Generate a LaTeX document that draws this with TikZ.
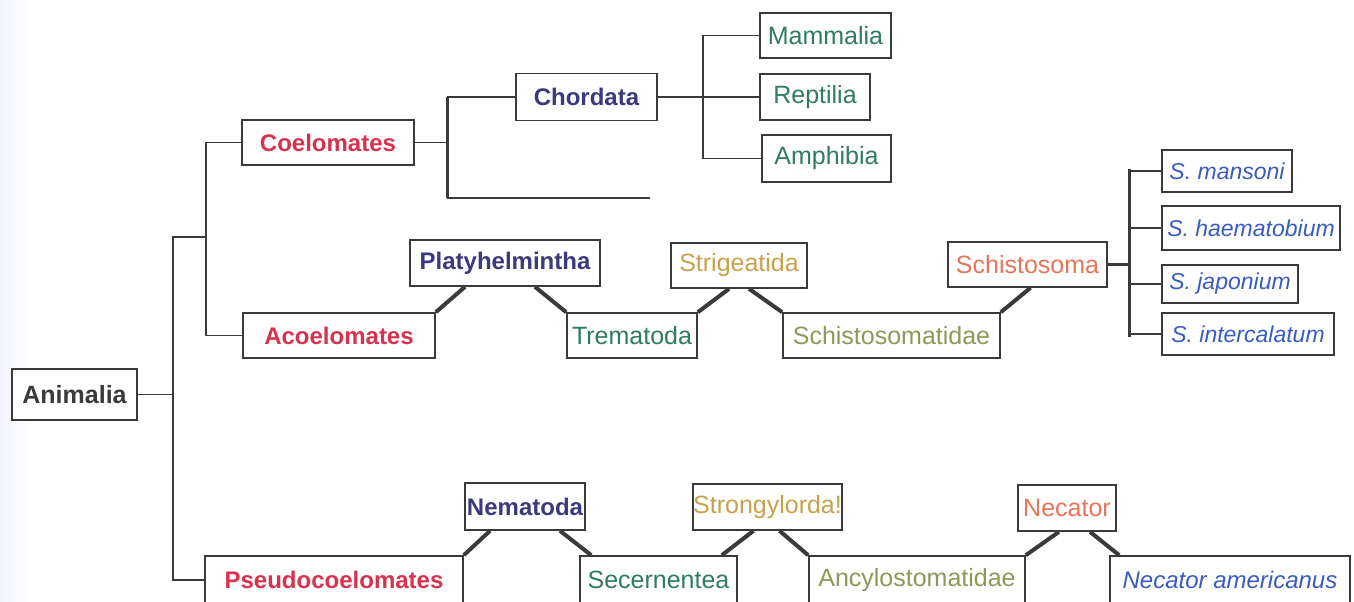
\documentclass[tikz,border=0pt]{standalone}
\usepackage{fontspec}
\usepackage{xcolor}
\usepackage{tikz}
\setmainfont{Liberation Sans}
\definecolor{boxgray}{HTML}{3A3A3A}
\definecolor{gradered}{HTML}{D8324F}
\definecolor{phylumblue}{HTML}{3B3A7A}
\definecolor{classgreen}{HTML}{2F7C62}
\definecolor{orderyellow}{HTML}{C8A24A}
\definecolor{familyolive}{HTML}{8C9A58}
\definecolor{genussalmon}{HTML}{E8745A}
\definecolor{speciesblue}{HTML}{3A5CC0}
\tikzset{
  taxon/.style={draw=boxgray, line width=0.8pt, fill=white, inner sep=0pt,
    font=\fontsize{12.5}{14}\selectfont},
  gradebox/.style={taxon, text=gradered, font=\fontsize{12}{14}\selectfont\bfseries},
  phylumbox/.style={taxon, text=phylumblue, font=\fontsize{12}{14}\selectfont\bfseries},
  classbox/.style={taxon, text=classgreen},
  orderbox/.style={taxon, text=orderyellow},
  familybox/.style={taxon, text=familyolive},
  genusbox/.style={taxon, text=genussalmon},
  speciesbox/.style={taxon, text=speciesblue, font=\fontsize{11.5}{14}\selectfont\itshape},
  link/.style={draw=boxgray, line width=0.75pt},
  fork/.style={draw=boxgray, line width=1.5pt},
  stem/.style={draw=boxgray, line width=2pt},
}

\begin{document}
\begin{tikzpicture}[x=0.5pt, y=-0.5pt]
  \useasboundingbox (0,0) rectangle (1354,601);
  \fill[left color=blue!4!white, right color=white] (0,0) rectangle (36,601);

  % root and grades
  \node[taxon, text=boxgray, font=\fontsize{12.5}{14}\selectfont\bfseries, minimum width=62.5pt, minimum height=25.5pt] (anim) at (74.5,394.5) {Animalia};
  \node[gradebox, minimum width=86pt, minimum height=22.5pt] (coel) at (328,142.5) {Coelomates};
  \node[gradebox, minimum width=96pt, minimum height=22.5pt] (acoel) at (339,335.5) {Acoelomates};
  \node[gradebox, minimum width=129pt, minimum height=24pt] (pseudo) at (334,580) {Pseudocoelomates};

  % coelomates
  \node[phylumbox, minimum width=70.5pt, minimum height=23.5pt] (chord) at (586.5,97) {Chordata};
  \node[classbox, minimum width=65.5pt, minimum height=22.5pt] (mamm) at (825.5,35.5) {Mammalia};
  \node[classbox, minimum width=55pt, minimum height=23pt] (rept) at (815,97) {Reptilia};
  \node[classbox, minimum width=64.5pt, minimum height=23.5pt] (amph) at (826.5,158.5) {Amphibia};

  % acoelomates
  \node[phylumbox, minimum width=95pt, minimum height=23pt] (plat) at (505,263) {Platyhelmintha};
  \node[classbox, minimum width=65pt, minimum height=22.5pt] (trem) at (632,335.5) {Trematoda};
  \node[orderbox, minimum width=68pt, minimum height=22.5pt] (strig) at (739,265.5) {Strigeatida};
  \node[familybox, minimum width=108.5pt, minimum height=22.5pt] (schd) at (891.5,335.5) {Schistosomatidae};
  \node[genusbox, minimum width=79.5pt, minimum height=22.5pt] (schma) at (1027.5,264.5) {Schistosoma};
  \node[speciesbox, minimum width=65pt, minimum height=21pt] (sman) at (1227,171) {S. mansoni};
  \node[speciesbox, minimum width=89pt, minimum height=22pt] (shae) at (1251,228) {S. haematobium};
  \node[speciesbox, minimum width=68pt, minimum height=19pt] (sjap) at (1230,284) {S. japonium};
  \node[speciesbox, minimum width=86pt, minimum height=21pt] (sint) at (1248,334) {S. intercalatum};

  % pseudocoelomates
  \node[phylumbox, minimum width=60pt, minimum height=23.5pt] (nema) at (525,506.5) {Nematoda};
  \node[classbox, minimum width=78.5pt, minimum height=24pt] (secer) at (658.5,580) {Secernentea};
  \node[orderbox, minimum width=68.5pt, minimum height=23pt] (strong) at (767.5,507) {Strongylorda!};
  \node[familybox, minimum width=108pt, minimum height=24pt] (ancyl) at (917,580) {Ancylostomatidae};
  \node[genusbox, minimum width=49pt, minimum height=23pt] (necat) at (1067,508) {Necator};
  \node[speciesbox, font=\fontsize{12}{14}\selectfont\itshape, minimum width=120pt, minimum height=24pt] (namer) at (1230,580) {Necator americanus};

  % elbow links
  \coordinate (trunk) at (173,237);
  \coordinate (split) at (206,237);
  \draw[link] (anim.east) -- (anim.east -| trunk);
  \draw[link] (split) -- (trunk) |- (pseudo.west);
  \draw[link] (coel.west) -| (split) |- (acoel.west);

  \coordinate (cfork) at (447,198);
  \coordinate (cend) at (650,198);
  \draw[link] (coel.east) -- (coel.east -| cfork);
  \draw[link] (chord.west) -- (chord.west -| cfork);
  \draw[fork] (chord.west -| cfork) -- (cfork);
  \draw[link] (cfork) -- (cend);

  \coordinate (chfork) at (703,97);
  \draw[link] (chord.east) -- (rept.west);
  \draw[link] (mamm.west) -| (chfork) |- (amph.west);

  \coordinate (sfork) at (1129,264.5);
  \draw[fork] (schma.east) -- (sfork);
  \draw[fork] ([yshift=1pt]sman.west -| sfork) -- ([yshift=-1.5pt]sint.west -| sfork);
  \foreach \s in {sman,shae,sjap,sint}
    \draw[link] (\s.west) -- (\s.west -| sfork);

  % slanted links
  \draw[stem] (acoel.north east) -- ([xshift=-20pt]plat.south);
  \draw[stem] ([xshift=15pt]plat.south) -- (trem.north west);
  \draw[stem] (trem.north east) -- ([xshift=-5pt]strig.south);
  \draw[stem] ([xshift=5pt]strig.south) -- (schd.north west);
  \draw[stem] (schd.north east) -- ([xshift=1.5pt]schma.south);

  \draw[stem] (pseudo.north east) -- ([xshift=-17.5pt]nema.south);
  \draw[stem] ([xshift=17.5pt]nema.south) -- ([xshift=6pt]secer.north west);
  \draw[stem] ([xshift=-8pt]secer.north east) -- ([xshift=-7pt]strong.south);
  \draw[stem] ([xshift=6pt]strong.south) -- (ancyl.north west);
  \draw[stem] (ancyl.north east) -- ([xshift=-4pt]necat.south);
  \draw[stem] ([xshift=11.5pt]necat.south) -- ([xshift=5pt]namer.north west);
\end{tikzpicture}
\end{document}
